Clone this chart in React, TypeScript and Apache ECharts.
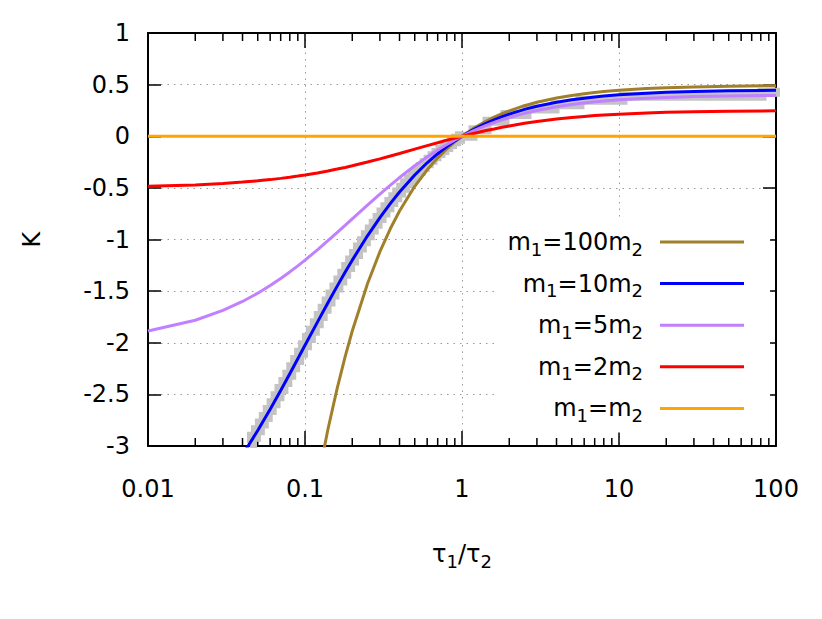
import React, { useEffect, useRef } from 'react';
import * as echarts from 'echarts';

// tau1/tau2 sample points used by the curves
const TAU = [0.01, 0.02, 0.03, 0.04, 0.05, 0.06, 0.07, 0.08, 0.09, 0.1, 0.12, 0.14, 0.16, 0.18, 0.2, 0.25, 0.3, 0.35, 0.4, 0.5, 0.6, 0.7, 0.8, 0.9, 1, 1.2, 1.4, 1.6, 1.8, 2, 2.5, 3, 4, 5, 6, 7, 8, 10, 15, 20, 30, 50, 100];

const K_M100 = [-24.5, -16.17, -12.0, -9.6, -7.84, -6.65, -5.75, -5.06, -4.5, -4.05, -3.351, -2.838, -2.446, -2.136, -1.886, -1.428, -1.118, -0.894, -0.724, -0.485, -0.325, -0.209, -0.122, -0.054, 0, 0.082, 0.140, 0.185, 0.219, 0.246, 0.296, 0.329, 0.370, 0.395, 0.412, 0.424, 0.433, 0.445, 0.462, 0.470, 0.478, 0.485, 0.490];
const K_M10 = [-4.05, -3.675, -3.358, -3.086, -2.85, -2.644, -2.462, -2.3, -2.155, -2.025, -1.8, -1.613, -1.454, -1.318, -1.2, -0.964, -0.788, -0.65, -0.54, -0.375, -0.257, -0.169, -0.1, -0.045, 0, 0.069, 0.12, 0.159, 0.190, 0.214, 0.260, 0.290, 0.329, 0.353, 0.369, 0.380, 0.389, 0.401, 0.417, 0.425, 0.434, 0.440, 0.445];
const K_M5 = [-1.886, -1.782, -1.687, -1.6, -1.52, -1.446, -1.378, -1.314, -1.255, -1.2, -1.1, -1.012, -0.933, -0.863, -0.8, -0.667, -0.56, -0.473, -0.4, -0.286, -0.2, -0.133, -0.08, -0.036, 0, 0.057, 0.1, 0.133, 0.16, 0.182, 0.222, 0.25, 0.286, 0.308, 0.323, 0.333, 0.342, 0.353, 0.368, 0.376, 0.384, 0.390, 0.395];
const K_M2 = [-0.485, -0.471, -0.458, -0.444, -0.432, -0.420, -0.408, -0.397, -0.386, -0.375, -0.355, -0.336, -0.318, -0.302, -0.286, -0.25, -0.219, -0.191, -0.167, -0.125, -0.091, -0.063, -0.038, -0.018, 0, 0.029, 0.053, 0.071, 0.087, 0.1, 0.125, 0.143, 0.167, 0.182, 0.192, 0.2, 0.206, 0.214, 0.226, 0.232, 0.238, 0.243, 0.246];
const K_M1 = [0, 0, 0, 0, 0, 0, 0, 0, 0, 0, 0, 0, 0, 0, 0, 0, 0, 0, 0, 0, 0, 0, 0, 0, 0, 0, 0, 0, 0, 0, 0, 0, 0, 0, 0, 0, 0, 0, 0, 0, 0, 0, 0];

// grey simulation points
const GREY_LEFT_TAU = [0.04467, 0.04732, 0.05012, 0.05309, 0.05623, 0.05957, 0.0631, 0.06683, 0.07079, 0.07499, 0.07943, 0.08414, 0.08913, 0.09441, 0.1, 0.1059, 0.1122, 0.1189, 0.1259, 0.1334, 0.1413, 0.1496, 0.1585, 0.1679, 0.1778, 0.1884, 0.1995, 0.2113, 0.2239, 0.2371, 0.2512, 0.2661, 0.2818, 0.2985, 0.3162, 0.335, 0.3548, 0.3758, 0.3981, 0.4217, 0.4467, 0.4732, 0.5012, 0.5309, 0.5623, 0.5957, 0.631, 0.6683, 0.7079, 0.7499, 0.7943, 0.8414, 0.8913, 0.9441, 1];
const GREY_LEFT_K = [-2.972, -2.91, -2.847, -2.783, -2.718, -2.652, -2.585, -2.517, -2.448, -2.379, -2.309, -2.238, -2.167, -2.096, -2.025, -1.954, -1.883, -1.811, -1.741, -1.671, -1.601, -1.533, -1.465, -1.398, -1.332, -1.266, -1.203, -1.14, -1.078, -1.018, -0.96, -0.902, -0.847, -0.792, -0.739, -0.688, -0.638, -0.59, -0.544, -0.499, -0.455, -0.414, -0.373, -0.335, -0.297, -0.262, -0.227, -0.194, -0.163, -0.132, -0.104, -0.076, -0.049, -0.024, 0];
const GREY_RIGHT_TAU = [1.0, 1.175, 1.443, 1.878, 2.594, 3.91, 5.64, 10.6, 81.5, 106];
const GREY_RIGHT_K = [0.0, 0.063, 0.145, 0.21, 0.264, 0.305, 0.349, 0.388, 0.426, 0.426];

const MINOR_TICKS = [0.02, 0.03, 0.04, 0.05, 0.06, 0.07, 0.08, 0.09, 0.2, 0.3, 0.4, 0.5, 0.6, 0.7, 0.8, 0.9, 2, 3, 4, 5, 6, 7, 8, 9, 20, 30, 40, 50, 60, 70, 80, 90];

const SERIES_NAMES = ['m₁=100m₂', 'm₁=10m₂', 'm₁=5m₂', 'm₁=2m₂', 'm₁=m₂'];
const LEGEND_RICH = ['m{s|1}=100m{s|2}', 'm{s|1}=10m{s|2}', 'm{s|1}=5m{s|2}', 'm{s|1}=2m{s|2}', 'm{s|1}=m{s|2}'];
const COLORS = ['#a0802a', '#0000ff', '#c080ff', '#ff0000', '#ffa500'];

const FONT = 'DejaVu Sans';
const FS = 24;

export default function App() {
  const ref = useRef<HTMLDivElement>(null);
  useEffect(() => {
    const chart = echarts.init(ref.current!, null, { renderer: 'svg' });
    const curves = [K_M100, K_M10, K_M5, K_M2, K_M1];
    const axisLine = { show: true, onZero: false, lineStyle: { color: '#000', width: 2 } };
    const subRich = {
      s: { fontSize: 18, fontFamily: FONT, color: '#000', verticalAlign: 'bottom', lineHeight: 32 },
    };
    const grid = { show: true, lineStyle: { color: '#999', type: [1.5, 5], width: 1 } };
    chart.setOption({
      animation: false,
      backgroundColor: '#fff',
      grid: { left: 148, right: 46, top: 33, bottom: 173, containLabel: false },
      xAxis: [
        {
          type: 'log', logBase: 10, min: 0.01, max: 100, position: 'bottom',
          axisLine,
          axisTick: { show: true, inside: true, length: 15, lineStyle: { color: '#000', width: 1.5 } },
          axisLabel: {
            margin: 31, fontSize: FS, fontFamily: FONT, color: '#000',
            formatter: (v: number) => String(+v.toPrecision(6)),
          },
          splitLine: grid,
          name: 'τ{s|1}/τ{s|2}', nameLocation: 'middle', nameGap: 92,
          nameTextStyle: { fontSize: FS, fontFamily: FONT, color: '#000', lineHeight: 32, rich: subRich },
        },
        {
          type: 'log', logBase: 10, min: 0.01, max: 100, position: 'top',
          axisLine,
          axisTick: { show: true, inside: true, length: 15, lineStyle: { color: '#000', width: 1.5 } },
          axisLabel: { show: false },
          splitLine: { show: false },
        },
      ],
      yAxis: [
        {
          type: 'value', min: -3, max: 1, interval: 0.5, position: 'left',
          axisLine,
          axisTick: { show: true, inside: true, length: 13, lineStyle: { color: '#000', width: 1.5 } },
          axisLabel: { margin: 18, fontSize: FS, fontFamily: FONT, color: '#000' },
          splitLine: grid,
          name: 'K', nameLocation: 'middle', nameGap: 104, nameRotate: 90,
          nameTextStyle: { fontSize: FS, fontFamily: FONT, color: '#000' },
        },
        {
          type: 'value', min: -3, max: 1, interval: 0.5, position: 'right',
          axisLine,
          axisTick: { show: true, inside: true, length: 13, lineStyle: { color: '#000', width: 1.5 } },
          axisLabel: { show: false },
          splitLine: { show: false },
        },
      ],
      legend: {
        data: SERIES_NAMES,
        orient: 'vertical',
        align: 'right',
        right: 52,
        top: 218,
        padding: [8, 26, 8, 10],
        itemGap: 9.6,
        itemWidth: 84,
        itemHeight: 3,
        icon: 'rect',
        backgroundColor: '#fff',
        selectedMode: false,
        formatter: (name: string) => LEGEND_RICH[SERIES_NAMES.indexOf(name)],
        textStyle: {
          fontSize: FS, fontFamily: FONT, color: '#000', lineHeight: 32,
          padding: [0, 12, 0, 0],
          rich: subRich,
        },
      },
      series: [
        {
          name: 'grey-left', type: 'line', step: 'middle',
          data: GREY_LEFT_TAU.map((t, i) => [t, GREY_LEFT_K[i]]),
          showSymbol: false, symbol: 'none',
          lineStyle: { color: '#c4c4c4', width: 10, cap: 'butt', join: 'miter' },
          itemStyle: { color: '#c4c4c4' },
        },
        {
          name: 'grey-right', type: 'line', step: 'end', clip: false,
          data: GREY_RIGHT_TAU.map((t, i) => [t, GREY_RIGHT_K[i]]),
          showSymbol: false, symbol: 'none',
          lineStyle: { color: '#c4c4c4', width: 9, cap: 'butt', join: 'miter' },
          itemStyle: { color: '#c4c4c4' },
        },
        ...curves.map((ks, idx) => ({
          name: SERIES_NAMES[idx], type: 'line',
          data: TAU.map((t, i) => [t, ks[i]]),
          showSymbol: false, symbol: 'none',
          lineStyle: { color: COLORS[idx], width: 3 },
          itemStyle: { color: COLORS[idx] },
        })),
        {
          name: 'minor-ticks', type: 'custom', silent: true, clip: false,
          data: MINOR_TICKS.map((v) => [v, -3]),
          encode: { x: 0, y: 1 },
          renderItem: (params: any, api: any) => {
            const x = api.value(0);
            const pb = api.coord([x, -3]);
            const pt = api.coord([x, 1]);
            const st = { stroke: '#000', lineWidth: 1.5 };
            return {
              type: 'group',
              children: [
                { type: 'line', shape: { x1: pb[0], y1: pb[1], x2: pb[0], y2: pb[1] - 8 }, style: st },
                { type: 'line', shape: { x1: pt[0], y1: pt[1], x2: pt[0], y2: pt[1] + 8 }, style: st },
              ],
            };
          },
        },
      ],
    });
    return () => chart.dispose();
  }, []);
  return (
    <div
      ref={ref}
      style={{ position: 'fixed', left: 0, top: 0, width: 822, height: 619, background: '#fff' }}
    />
  );
}
